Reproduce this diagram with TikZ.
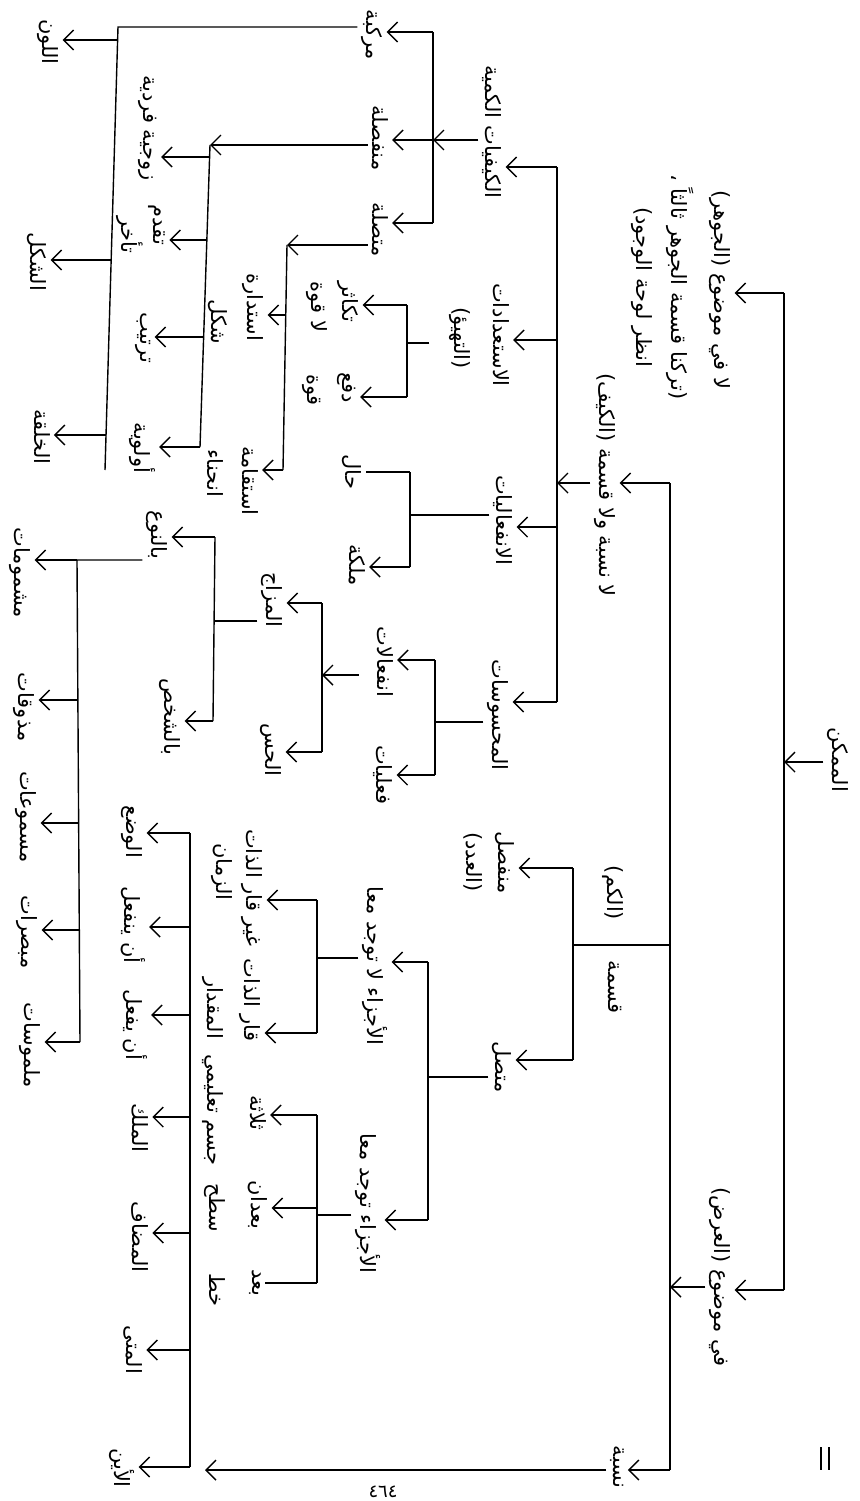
\documentclass[tikz,border=0pt]{standalone}
\usepackage{fontspec}
\newfontfamily\arabicfont[Script=Arabic]{DejaVu Sans}
\TeXXeTstate=1
\usetikzlibrary{arrows.meta}
\newcommand{\ar}[1]{\beginR #1\endR}
\tikzset{
  lbl/.style={rotate=-90, font=\arabicfont\fontsize{21}{25}\selectfont, inner sep=1pt, outer sep=3pt},
  ln/.style={line width=1.4pt},
  arr/.style={ln, -{Straight Barb[length=10pt,width=20pt,line width=1.4pt]}},
}
\begin{document}
\begin{tikzpicture}[x=1pt,y=-1pt]
\useasboundingbox[fill=white] (0,0) rectangle (859,1501);

% ---------- text nodes ----------
\node[lbl] (R)   at (838,760)  {\ar{الممكن}};
\node[lbl] (A1a) at (720,290)  {\ar{لا في موضوع (الجوهر)}};
\node[lbl] (A1b) at (680,287)  {\ar{(تركنا قسمة الجوهر ثالثاً ،}};
\node[lbl] (A1c) at (642,287)  {\ar{انظر لوحة الوجود)}};
\node[lbl] (A2)  at (605,485)  {\ar{لا نسبة ولا قسمة (الكيف)}};
\node[lbl] (A3)  at (720,1277) {\ar{في موضوع (العرض)}};

\node[lbl] (K)   at (492,132)  {\ar{الكيفيات الكمية}};
\node[lbl] (S)   at (501,335)  {\ar{الاستعدادات}};
\node[lbl] (S2)  at (460,338)  {\ar{(التهيؤ)}};
\node[lbl] (N)   at (503,520)  {\ar{الانفعاليات}};
\node[lbl] (M)   at (498,715)  {\ar{المحسوسات}};

\node[lbl] (K1)  at (372,35)   {\ar{مركبة}};
\node[lbl] (K2)  at (380,138)  {\ar{منفصلة}};
\node[lbl] (K3)  at (380,230)  {\ar{متصلة}};

\node[lbl] (C1)  at (48,42)    {\ar{اللون}};
\node[lbl] (C2)  at (37,262)   {\ar{الشكل}};
\node[lbl] (C3)  at (42,437)   {\ar{الخلقة}};

\node[lbl] (D1)  at (148,128)  {\ar{زوجية فردية}};
\node[lbl] (D2)  at (157,225)  {\ar{تقدم}};
\node[lbl] (D2b) at (130,235)  {\ar{تأخر}};
\node[lbl] (D3)  at (143,338)  {\ar{ترتيب}};
\node[lbl] (D4)  at (142,448)  {\ar{أولوية}};

\node[lbl] (E1)  at (253,307)  {\ar{استدارة}};
\node[lbl] (E1b) at (218,322)  {\ar{شكل}};
\node[lbl] (E2)  at (250,481)  {\ar{استقامة}};
\node[lbl] (E2b) at (215,473)  {\ar{انحناء}};

\node[lbl] (F1)  at (348,302)  {\ar{تكاثر}};
\node[lbl] (F1b) at (317,307)  {\ar{لا قوة}};
\node[lbl] (F2)  at (347,388)  {\ar{دفع}};
\node[lbl] (F2b) at (312,390)  {\ar{قوة}};

\node[lbl] (G1)  at (352,472)  {\ar{حال}};
\node[lbl] (G2)  at (357,565)  {\ar{ملكة}};

\node[lbl] (H1)  at (385,662)  {\ar{انفعالات}};
\node[lbl] (H2)  at (383,775)  {\ar{فعليات}};

\node[lbl] (I1)  at (272,600)  {\ar{المزاج}};
\node[lbl] (I2)  at (271,750)  {\ar{الحس}};

\node[lbl] (J1)  at (157,535)  {\ar{بالنوع}};
\node[lbl] (J2)  at (170,717)  {\ar{بالشخص}};

\node[lbl] (L1)  at (20,573)   {\ar{مشمومات}};
\node[lbl] (L2)  at (24,707)   {\ar{مذوقات}};
\node[lbl] (L3)  at (26,817)   {\ar{مسموعات}};
\node[lbl] (L4)  at (27,932)   {\ar{مبصرات}};
\node[lbl] (L5)  at (30,1045)  {\ar{ملموسات}};

\node[lbl] (Q2)  at (613,893)  {\ar{(الكم)}};
\node[lbl] (Q1)  at (615,987)  {\ar{قسمة}};

\node[lbl] (T1)  at (505,863)  {\ar{منفصل}};
\node[lbl] (T1b) at (473,862)  {\ar{(العدد)}};
\node[lbl] (T2)  at (502,1067) {\ar{متصل}};

\node[lbl] (U1)  at (375,966)  {\ar{الأجزاء لا توجد معا}};
\node[lbl] (U2)  at (368,1203) {\ar{الأجزاء توجد معا}};

\node[lbl] (V1)  at (252,888)  {\ar{غير قار الذات}};
\node[lbl] (V1b) at (222,872)  {\ar{الزمان}};
\node[lbl] (V2)  at (250,1000) {\ar{قار الذات}};
\node[lbl] (V2b) at (213,1008) {\ar{المقدار}};

\node[lbl] (W1)  at (258,1113) {\ar{ثلاثة}};
\node[lbl] (W1b) at (213,1110) {\ar{جسم تعليمي}};
\node[lbl] (W2)  at (258,1205) {\ar{بعدان}};
\node[lbl] (W2b) at (215,1208) {\ar{سطح}};
\node[lbl] (W3)  at (255,1283) {\ar{بعد}};
\node[lbl] (W3b) at (217,1290) {\ar{خط}};

\node[lbl] (NS)  at (617,1467) {\ar{نسبة}};
\node[lbl] (X1)  at (132,832)  {\ar{الوضع}};
\node[lbl] (X2)  at (133,925)  {\ar{أن ينفعل}};
\node[lbl] (X3)  at (135,1025) {\ar{أن يفعل}};
\node[lbl] (X4)  at (140,1128) {\ar{الملك}};
\node[lbl] (X5)  at (140,1237) {\ar{المضاف}};
\node[lbl] (X6)  at (133,1350) {\ar{المتى}};
\node[lbl] (X7)  at (122,1468) {\ar{الأين}};

\node[font=\arabicfont\fontsize{18}{18}\selectfont, inner sep=1pt] (pg) at (383,1492) {٤٦٤};

% mark at lower right
\coordinate (m1t) at (821,1447); \coordinate (m1b) at (821,1470);
\coordinate (m2t) at (829,1447); \coordinate (m2b) at (829,1470);
\draw[line width=1.2pt] (m1t) -- (m1b);
\draw[line width=1.2pt] (m2t) -- (m2b);

% ---------- bar 1 ----------
\coordinate (b1t) at (784,293);
\coordinate (b1b) at (784,1290);
\coordinate (b1r) at (784,762);
\draw[ln] (b1t) -- (b1b);
\draw[arr] (R.south |- b1r) -- (b1r);
\draw[arr] (b1t) -- (b1t -| A1a.north);
\draw[arr] (b1b) -- (b1b -| A3.north);

% ---------- bar 2 ----------
\coordinate (b2t) at (670,483);
\coordinate (b2b) at (670,1470);
\coordinate (b2a) at (670,1287);
\coordinate (b2q) at (670,945);
\coordinate (b14q) at (573,945);
\coordinate (nst) at (205,1470);
\draw[ln] (b2t) -- (b2b);
\draw[arr] (A3.south |- b2a) -- (b2a);
\draw[arr] (b2t) -- (b2t -| A2.north);
\draw[ln] (b2q) -- (b14q);
\draw[arr] (b2b) -- (b2b -| NS.north);
\draw[arr] (NS.south |- nst) -- (nst);

% ---------- bar 3 ----------
\coordinate (b3t) at (557,167);
\coordinate (b3b) at (557,702);
\coordinate (b3a) at (557,483);
\coordinate (b3s) at (557,340);
\coordinate (b3n) at (557,527);
\draw[ln] (b3t) -- (b3b);
\draw[arr] (A2.south |- b3a) -- (b3a);
\draw[arr] (b3t) -- (b3t -| K.north);
\draw[arr] (b3s) -- (b3s -| S.north);
\draw[arr] (b3n) -- (b3n -| N.north);
\draw[arr] (b3b) -- (b3b -| M.north);

% ---------- bar 4 ----------
\coordinate (b4t) at (433,32);
\coordinate (b4b) at (433,223);
\coordinate (b4m) at (433,140);
\draw[ln] (b4t) -- (b4b);
\draw[arr] (K.south |- b4m) -- (b4m);
\draw[arr] (b4t) -- (b4t -| K1.north);
\draw[arr] (b4m) -- (b4m -| K2.north);
\draw[arr] (b4b) -- (b4b -| K3.north);

% ---------- bar 5 ----------
\coordinate (b5t) at (118,27);
\coordinate (b5b) at (105,470);
\coordinate (b5a) at (117,40);
\coordinate (b5c) at (111,260);
\coordinate (b5d) at (106,435);
\draw[ln] (K1.south |- b5t) -- (b5t) -- (b5b);
\draw[arr] (b5a) -- (b5a -| C1.north);
\draw[arr] (b5c) -- (b5c -| C2.north);
\draw[arr] (b5d) -- (b5d -| C3.north);

% ---------- bar 6 ----------
\coordinate (b6t) at (210,145);
\coordinate (b6b) at (200,447);
\coordinate (b6a) at (209.5,157);
\coordinate (b6c) at (207,240);
\coordinate (b6d) at (204,337);
\draw[ln] (b6t) -- (b6b);
\draw[arr] (K2.south |- b6t) -- (b6t);
\draw[arr] (b6a) -- (b6a -| D1.north);
\draw[arr] (b6c) -- (b6c -| D2.north);
\draw[arr] (b6d) -- (b6d -| D3.north);
\draw[arr] (b6b) -- (b6b -| D4.north);

% ---------- bar 7 ----------
\coordinate (b7t) at (287,245);
\coordinate (b7b) at (283,470);
\coordinate (b7a) at (286,315);
\draw[ln] (b7t) -- (b7b);
\draw[arr] (K3.south |- b7t) -- (b7t);
\draw[arr] (b7a) -- (b7a -| E1.north);
\draw[arr] (b7b) -- (b7b -| E2.north);

% ---------- bar 8 ----------
\coordinate (b8t) at (407,305);
\coordinate (b8b) at (407,397);
\coordinate (b8m) at (407,343);
\draw[ln] (b8t) -- (b8b);
\draw[ln, shorten <=16pt] (S2.south |- b8m) -- (b8m);
\draw[arr] (b8t) -- (b8t -| F1.north);
\draw[arr] (b8b) -- (b8b -| F2.north);

% ---------- bar 9 ----------
\coordinate (b9t) at (410,472);
\coordinate (b9b) at (410,567);
\coordinate (b9m) at (410,515);
\draw[ln] (b9t) -- (b9b);
\draw[ln] (N.south |- b9m) -- (b9m);
\draw[ln] (b9t) -- (b9t -| G1.north);
\draw[arr] (b9b) -- (b9b -| G2.north);

% ---------- bar 10 ----------
\coordinate (b10t) at (435,660);
\coordinate (b10b) at (435,775);
\coordinate (b10m) at (435,722);
\draw[ln] (b10t) -- (b10b);
\draw[ln] (M.south |- b10m) -- (b10m);
\draw[arr] (b10t) -- (b10t -| H1.north);
\draw[arr] (b10b) -- (b10b -| H2.north);

% ---------- bar 11 ----------
\coordinate (b11t) at (322,603);
\coordinate (b11b) at (322,752);
\coordinate (b11m) at (322,675);
\draw[ln] (b11t) -- (b11b);
\draw[arr, shorten <=14pt] (H1.south |- b11m) -- (b11m);
\draw[arr] (b11t) -- (b11t -| I1.north);
\draw[arr] (b11b) -- (b11b -| I2.north);

% ---------- bar 12 ----------
\coordinate (b12t) at (215,537);
\coordinate (b12b) at (213,721);
\coordinate (b12m) at (214,621);
\draw[ln] (b12t) -- (b12b);
\draw[ln] (I1.south |- b12m) -- (b12m);
\draw[arr] (b12t) -- (b12t -| J1.north);
\draw[arr] (b12b) -- (b12b -| J2.north);

% ---------- bar 13 ----------
\coordinate (b13t) at (77,560);
\coordinate (b13b) at (80,1042);
\coordinate (b13c) at (78,700);
\coordinate (b13d) at (79,823);
\coordinate (b13e) at (80,930);
\draw[ln] (J1.south |- b13t) -- (b13t) -- (b13b);
\draw[arr] (b13t) -- (b13t -| L1.north);
\draw[arr] (b13c) -- (b13c -| L2.north);
\draw[arr] (b13d) -- (b13d -| L3.north);
\draw[arr] (b13e) -- (b13e -| L4.north);
\draw[arr] (b13b) -- (b13b -| L5.north);

% ---------- bar 14 ----------
\coordinate (b14t) at (573,868);
\coordinate (b14b) at (573,1060);
\draw[ln] (b14t) -- (b14b);
\draw[arr] (b14t) -- (b14t -| T1.north);
\draw[arr] (b14b) -- (b14b -| T2.north);

% ---------- bar 15 ----------
\coordinate (b15t) at (428,962);
\coordinate (b15b) at (428,1220);
\coordinate (b15m) at (428,1077);
\draw[ln] (b15t) -- (b15b);
\draw[ln] (T2.south |- b15m) -- (b15m);
\draw[arr] (b15t) -- (b15t -| U1.north);
\draw[arr] (b15b) -- (b15b -| U2.north);

% ---------- bar 16 ----------
\coordinate (b16t) at (317,900);
\coordinate (b16b) at (317,1033);
\coordinate (b16m) at (317,958);
\draw[ln] (b16t) -- (b16b);
\draw[ln] (U1.south |- b16m) -- (b16m);
\draw[arr] (b16t) -- (b16t -| V1.north);
\draw[arr] (b16b) -- (b16b -| V2.north);

% ---------- bar 17 ----------
\coordinate (b17t) at (317,1115);
\coordinate (b17b) at (317,1283);
\coordinate (b17m) at (317,1215);
\coordinate (b17c) at (317,1208);
\draw[ln] (b17t) -- (b17b);
\draw[ln] (U2.south |- b17m) -- (b17m);
\draw[arr] (b17t) -- (b17t -| W1.north);
\draw[arr] (b17c) -- (b17c -| W2.north);
\draw[ln] (b17b) -- (b17b -| W3.north);

% ---------- bar 18 ----------
\coordinate (b18t) at (190,833);
\coordinate (b18b) at (190,1467);
\coordinate (b18c) at (190,927);
\coordinate (b18d) at (190,1015);
\coordinate (b18e) at (190,1117);
\coordinate (b18f) at (190,1233);
\coordinate (b18g) at (190,1350);
\draw[ln] (b18t) -- (b18b);
\draw[arr] (b18t) -- (b18t -| X1.north);
\draw[arr] (b18c) -- (b18c -| X2.north);
\draw[arr] (b18d) -- (b18d -| X3.north);
\draw[arr] (b18e) -- (b18e -| X4.north);
\draw[arr] (b18f) -- (b18f -| X5.north);
\draw[arr] (b18g) -- (b18g -| X6.north);
\draw[arr] (b18b) -- (b18b -| X7.north);
\end{tikzpicture}
\end{document}
